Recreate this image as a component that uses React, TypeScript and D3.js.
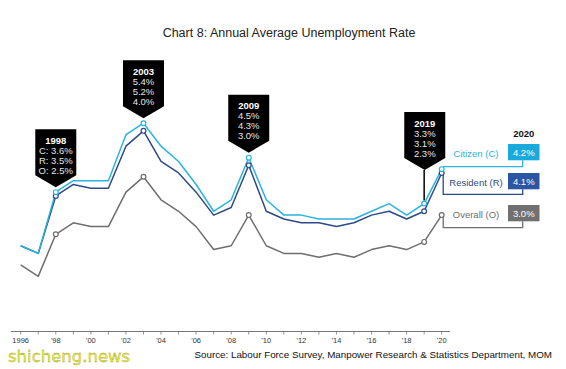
import React from "react";
import * as d3 from "d3";

const years = d3.range(1996, 2021);
const citizen = [2.2, 2.0, 3.6, 3.9, 3.9, 3.9, 5.1, 5.4, 4.8, 4.4, 3.8, 3.1, 3.4, 4.5, 3.4, 3.0, 3.0, 2.9, 2.9, 2.9, 3.1, 3.3, 3.0, 3.3, 4.2];
const resident = [2.2, 2.0, 3.5, 3.8, 3.7, 3.7, 4.8, 5.2, 4.4, 4.1, 3.6, 3.0, 3.2, 4.3, 3.1, 2.9, 2.8, 2.8, 2.7, 2.8, 3.0, 3.1, 2.9, 3.1, 4.1];
const overall = [1.7, 1.4, 2.5, 2.8, 2.7, 2.7, 3.6, 4.0, 3.4, 3.1, 2.7, 2.1, 2.2, 3.0, 2.2, 2.0, 2.0, 1.9, 2.0, 1.9, 2.1, 2.2, 2.1, 2.3, 3.0];
const markedYears = [1998, 2003, 2009, 2019, 2020];
const tickLabels = ["1996", "'98", "'00", "'02", "'04", "'06", "'08", "'10", "'12", "'14", "'16", "'18", "'20"];

const callouts = [
  { year: 1998, lines: ["C: 3.6%", "R: 3.5%", "O: 2.5%"] },
  { year: 2003, lines: ["5.4%", "5.2%", "4.0%"] },
  { year: 2009, lines: ["4.5%", "4.3%", "3.0%"] },
  { year: 2019, lines: ["3.3%", "3.1%", "2.3%"] },
];

const seriesNames = ["Citizen (C)", "Resident (R)", "Overall (O)"];
const latest = ["4.2%", "4.1%", "3.0%"];

const FONT = "'Liberation Sans', Arial, Helvetica, sans-serif";

export default function App() {
  const width = 566;
  const height = 369;
  const x = d3.scaleLinear().domain([1996, 2020]).range([20.7, 441.7]);
  const y = d3.scaleLinear().domain([0, 5.4]).range([330, 123.2]);

  const series = [
    { values: citizen, color: "#2bb3df", box: "#1aa9dc" },
    { values: resident, color: "#2c4a86", box: "#2b56a3" },
    { values: overall, color: "#6e6e6e", box: "#707070" },
  ];

  const line = d3
    .line<number>()
    .x((_, i) => x(years[i]))
    .y((d) => y(d));

  const axisY = 331.5;
  const boxW = 41;
  const rectH = 46;
  const triH = 12;

  // end-label boxes (top y of each box)
  const boxTops = [144, 173, 205];
  const boxX = 508;
  const bw = 31.5;
  const bh = 16.3;
  const elbowX = 522.7;
  const elbowY = [166.7, 194.3, 227.7];

  return (
    <svg
      width={width}
      height={height}
      style={{ position: "absolute", left: 0, top: 0, background: "#fff" }}
      fontFamily={FONT}
    >
      <text x={289} y={37} textAnchor="middle" fontSize={12.5} fill="#222">
        Chart 8: Annual Average Unemployment Rate
      </text>

      {/* connectors from 2020 points to end labels */}
      {series.map((s, i) => {
        const px = x(2020) + 1.5;
        const py = y(s.values[24]);
        const path =
          i === 0
            ? `M${px},${elbowY[0]} H${elbowX} V${boxTops[0] + bh}`
            : `M${px},${py} V${elbowY[i]} H${elbowX} V${boxTops[i] + bh}`;
        return <path key={"c" + i} d={path} fill="none" stroke={s.color} strokeWidth={1.3} />;
      })}

      {/* 2019 leader line */}
      <line
        x1={x(2019)}
        x2={x(2019)}
        y1={170}
        y2={y(citizen[23]) - 3}
        stroke="#000"
        strokeWidth={1.5}
      />

      {/* lines, overall first */}
      {[2, 1, 0].map((i) => (
        <path
          key={"l" + i}
          d={line(series[i].values) || ""}
          fill="none"
          stroke={series[i].color}
          strokeWidth={1.5}
          strokeLinejoin="round"
        />
      ))}

      {[2, 1, 0].map((i) =>
        markedYears.map((yr) => (
          <circle
            key={"m" + i + yr}
            cx={x(yr)}
            cy={y(series[i].values[yr - 1996])}
            r={2.4}
            fill="#fff"
            stroke={series[i].color}
            strokeWidth={1.2}
          />
        ))
      )}

      {/* callouts */}
      {callouts.map((c) => {
        const cx = x(c.year) + (c.year === 2019 ? 0.6 : 0);
        const tipY = c.year === 2019 ? 170 : y(citizen[c.year - 1996]) - 5;
        const bottom = tipY - triH;
        const top = bottom - rectH;
        const l = cx - boxW / 2;
        const r = cx + boxW / 2;
        return (
          <g key={"co" + c.year}>
            <path d={`M${l},${top} H${r} V${bottom} L${cx},${tipY} L${l},${bottom} Z`} fill="#000" />
            <text x={cx} y={top + 14.5} textAnchor="middle" fontSize={9.5} fontWeight="bold" fill="#fff">
              {c.year}
            </text>
            {c.lines.map((t, j) => (
              <text key={j} x={cx} y={top + 24.5 + j * 10} textAnchor="middle" fontSize={9.5} fill="#e6e6e6">
                {t}
              </text>
            ))}
          </g>
        );
      })}

      {/* end labels */}
      <text x={boxX + bw / 2} y={136.5} textAnchor="middle" fontSize={9.5} fontWeight="bold" fill="#111">
        2020
      </text>
      {series.map((s, i) => (
        <g key={"e" + i}>
          <rect x={boxX} y={boxTops[i]} width={bw} height={bh} fill={s.box} />
          <text x={boxX + bw / 2} y={boxTops[i] + 11.6} textAnchor="middle" fontSize={9.5} fill="#fff">
            {latest[i]}
          </text>
          <text x={476} y={boxTops[i] + 12.5} textAnchor="middle" fontSize={9.5} fill={s.color}>
            {seriesNames[i]}
          </text>
        </g>
      ))}

      {/* x axis */}
      <line x1={11} x2={450} y1={axisY} y2={axisY} stroke="#777" strokeWidth={1} />
      {years.map((yr) => (
        <line key={"t" + yr} x1={x(yr)} x2={x(yr)} y1={axisY} y2={axisY + 3} stroke="#777" strokeWidth={0.8} />
      ))}
      {tickLabels.map((t, i) => (
        <text key={"tl" + i} x={x(1996 + i * 2)} y={342.5} textAnchor="middle" fontSize={7.5} fill="#333">
          {t}
        </text>
      ))}

      <text x={552} y={358} textAnchor="end" fontSize={9.8} fill="#111">
        Source: Labour Force Survey, Manpower Research &amp; Statistics Department, MOM
      </text>

      <text
        x={8}
        y={361.5}
        fontSize={16.5}
        fill="#f2f03a"
        stroke="#8a8a2a"
        strokeWidth={0.3}
        fontFamily="'DejaVu Sans', sans-serif"
      >
        shicheng.news
      </text>
    </svg>
  );
}
